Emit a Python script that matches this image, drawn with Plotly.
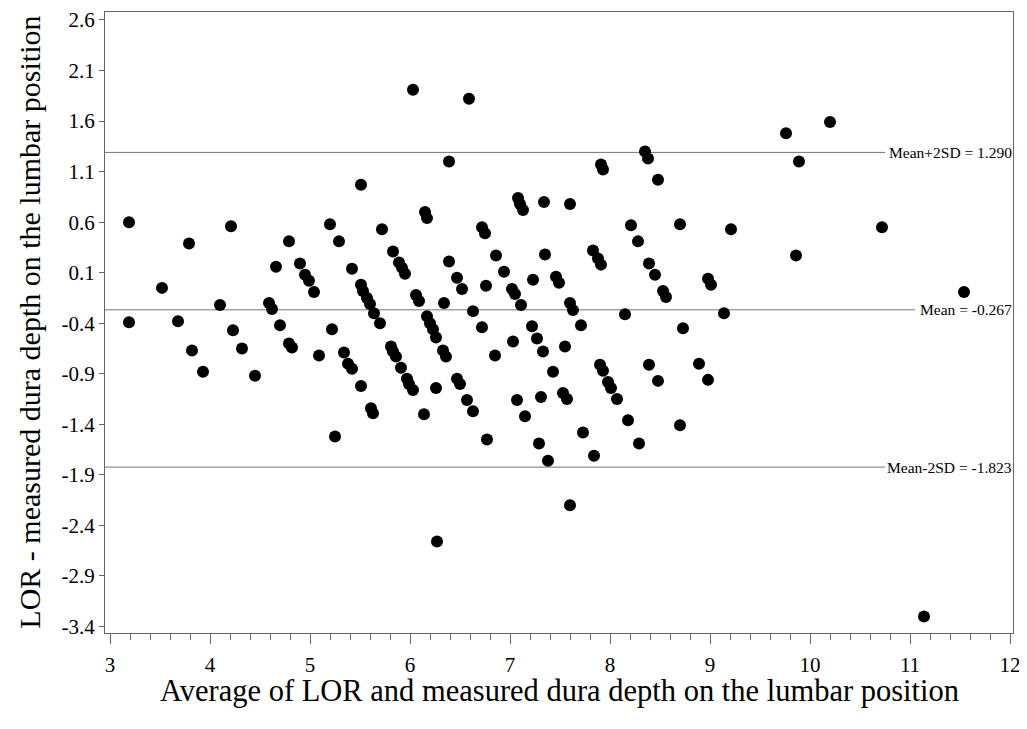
import plotly.graph_objects as go

# Bland-Altman data: average (x) and difference (y)
avg = [3.19, 3.19, 3.52, 3.68, 3.79, 3.82, 3.93, 4.10, 4.21, 4.23, 4.32, 4.45,
       4.59, 4.62, 4.66, 4.70, 4.79, 4.79, 4.82, 4.90, 4.95, 4.99, 5.04, 5.09,
       5.20, 5.22, 5.25, 5.29, 5.34, 5.38, 5.42, 5.42, 5.51, 5.51, 5.53, 5.57,
       5.60, 5.64, 5.51, 5.61, 5.63, 5.70, 5.72, 5.81, 5.83, 5.83, 5.86, 5.89,
       5.91, 5.92, 5.95, 5.97, 5.99, 6.03, 6.03, 6.06, 6.09, 6.14, 6.15, 6.17,
       6.17, 6.20, 6.23, 6.26, 6.26, 6.27, 6.33, 6.34, 6.36, 6.39, 6.39, 6.47,
       6.47, 6.50, 6.52, 6.57, 6.59, 6.63, 6.63, 6.72, 6.72, 6.75, 6.76, 6.77,
       6.85, 6.86, 6.94, 7.02, 7.03, 7.05, 7.07, 7.08, 7.10, 7.11, 7.13, 7.15,
       7.22, 7.23, 7.27, 7.29, 7.31, 7.33, 7.34, 7.35, 7.38, 7.43, 7.46, 7.49,
       7.53, 7.55, 7.57, 7.60, 7.60, 7.60, 7.63, 7.71, 7.73, 7.83, 7.84, 7.88,
       7.90, 7.91, 7.91, 7.93, 7.93, 7.98, 8.01, 8.07, 8.15, 8.18, 8.21, 8.28,
       8.29, 8.35, 8.38, 8.39, 8.39, 8.45, 8.48, 8.48, 8.53, 8.56, 8.70, 8.70,
       8.73, 8.89, 8.98, 8.98, 9.01, 9.14, 9.21, 9.76, 9.86, 9.89, 10.20, 10.72,
       11.14, 11.54]
diff = [0.60, -0.39, -0.05, -0.38, 0.39, -0.67, -0.88, -0.22, 0.56, -0.47, -0.65, -0.92,
        -0.20, -0.26, 0.16, -0.42, 0.41, -0.60, -0.64, 0.19, 0.08, 0.02, -0.09, -0.72,
        0.58, -0.46, -1.52, 0.41, -0.69, -0.80, -0.85, 0.14, 0.97, -0.02, -0.08, -0.15,
        -0.21, -0.30, -1.02, -1.24, -1.29, -0.40, 0.53, -0.63, 0.31, -0.68, -0.73, 0.20,
        -0.84, 0.15, 0.09, -0.95, -1.00, -1.06, 1.91, -0.12, -0.18, -1.30, 0.70, 0.64,
        -0.33, -0.40, -0.46, -0.54, -1.04, -2.56, -0.67, -0.20, -0.73, 1.20, 0.21, 0.05,
        -0.95, -1.00, -0.06, -1.16, 1.82, -0.28, -1.27, 0.55, -0.44, 0.49, -0.03, -1.55,
        -0.72, 0.27, 0.11, -0.06, -0.58, -0.11, -1.16, 0.84, 0.78, -0.22, 0.72, -1.32,
        -0.43, 0.03, -0.55, -1.59, -1.13, -0.68, 0.80, 0.28, -1.76, -0.88, 0.06, 0.00,
        -1.09, -0.63, -1.15, 0.78, -0.20, -2.20, -0.27, -0.42, -1.48, 0.32, -1.71, 0.24,
        -0.81, 1.17, 0.18, 1.12, -0.87, -0.98, -1.04, -1.15, -0.31, -1.36, 0.57, 0.41,
        -1.59, 1.30, 1.23, 0.19, -0.81, 0.08, 1.02, -0.97, -0.08, -0.14, 0.58, -1.41,
        -0.45, -0.80, 0.04, -0.96, -0.02, -0.30, 0.53, 1.48, 0.27, 1.20, 1.59, 0.55,
        -3.30, -0.09]

ref_names = ["Mean+2SD", "Mean", "Mean-2SD"]
ref_values = [1.290, -0.267, -1.823]
ref_line_end = [10.75, 11.05, 10.75]

x_ticks = [3, 4, 5, 6, 7, 8, 9, 10, 11, 12]
y_ticks = [2.6, 2.1, 1.6, 1.1, 0.6, 0.1, -0.4, -0.9, -1.4, -1.9, -2.4, -2.9, -3.4]
y_ticktext = [f"{v:.1f}" for v in y_ticks]  # plain hyphen minus, as in the original

x_title = "Average of LOR and measured dura depth on the lumbar position"
y_title = "LOR - measured dura depth on the lumbar position"

FONT = "Liberation Serif, Times New Roman, serif"

fig = go.Figure()
fig.add_trace(go.Scatter(
    x=avg, y=diff, mode="markers",
    marker=dict(size=12, color="black", line=dict(width=0)),
    showlegend=False, hoverinfo="x+y"))

for name, val, xe in zip(ref_names, ref_values, ref_line_end):
    fig.add_shape(type="line", xref="x", yref="y", x0=2.95, x1=xe, y0=val, y1=val,
                  line=dict(color="#777777", width=1), layer="below")
    fig.add_annotation(x=1.0, xref="paper", y=val, yref="y",
                       text=f"{name} = {val:.3f}", showarrow=False,
                       xanchor="right", yanchor="middle", xshift=1,
                       font=dict(family=FONT, size=15.5, color="black"))

# axis titles
fig.add_annotation(x=0.5, xref="paper", y=-0.093, yref="paper",
                   text=x_title, showarrow=False, xanchor="center", yanchor="middle",
                   font=dict(family=FONT, size=30.5, color="black"))
fig.add_annotation(x=-0.0835, xref="paper", y=0.5, yref="paper", textangle=-90,
                   text=y_title, showarrow=False, xanchor="center", yanchor="middle",
                   font=dict(family=FONT, size=30, color="black"))

# the page body adds an 8px offset, so the figure is shifted to compensate
fig.update_layout(
    width=1019, height=721,
    margin=dict(l=97, r=14, t=4, b=96, autoexpand=False),
    paper_bgcolor="white", plot_bgcolor="white",
    font=dict(family=FONT, color="black"),
)
fig.update_xaxes(
    range=[2.95, 12.03], tickvals=x_ticks, automargin=False,
    showgrid=False, zeroline=False,
    showline=True, linecolor="#666666", linewidth=1.3, mirror=True,
    ticks="outside", ticklen=10, tickcolor="#666666", tickwidth=1.3,
    ticklabelstandoff=3, ticklabeloverflow="allow",
    minor=dict(ticks="outside", ticklen=6, dtick=0.2, tick0=3,
               tickcolor="#666666", tickwidth=1, showgrid=False),
    tickfont=dict(family=FONT, size=21, color="black"),
)
fig.update_yaxes(
    range=[-3.464, 2.679], tickvals=y_ticks, ticktext=y_ticktext, automargin=False,
    showgrid=False, zeroline=False,
    showline=True, linecolor="#666666", linewidth=1.3, mirror=True,
    ticks="outside", ticklen=5, tickcolor="#666666", tickwidth=1.3,
    ticklabeloverflow="allow",
    tickfont=dict(family=FONT, size=21, color="black"),
)

fig.write_html("out.html")
